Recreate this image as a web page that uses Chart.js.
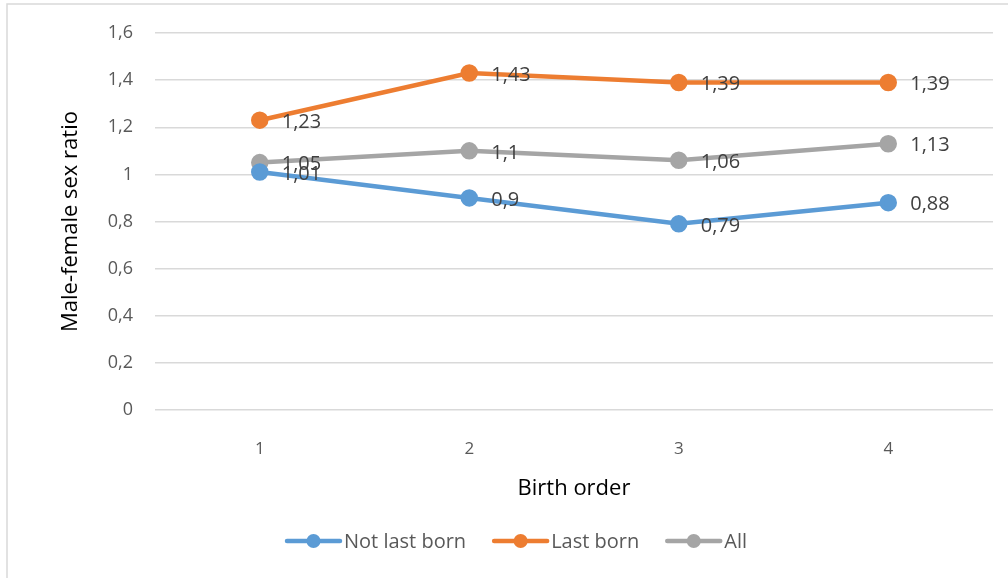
<!DOCTYPE html>
<html>
<head>
<meta charset="utf-8">
<script src="https://cdn.jsdelivr.net/npm/chart.js@4"></script>
<style>
  html, body { margin: 0; padding: 0; background: #fff; }
  #wrap { width: 1008px; height: 578px; }
</style>
</head>
<body>
<div id="wrap"><canvas id="chart" width="1008" height="578"></canvas></div>
<script>
const categories = ['1', '2', '3', '4'];
const notLastBorn = [1.01, 0.9, 0.79, 0.88];
const lastBorn = [1.23, 1.43, 1.39, 1.39];
const allBirths = [1.05, 1.1, 1.06, 1.13];
const seriesNames = ['Not last born', 'Last born', 'All'];
const seriesColors = ['#5B9BD5', '#ED7D31', '#A5A5A5'];

const FONT = "'Open Sans', 'Noto Sans', sans-serif";
const fmt = v => String(v).replace('.', ',');

// labels next to each point, to the right
const pointLabels = {
  id: 'pointLabels',
  afterDatasetsDraw(chart) {
    const ctx = chart.ctx;
    ctx.save();
    ctx.font = '20px ' + FONT;
    ctx.fillStyle = '#404040';
    ctx.textAlign = 'left';
    ctx.textBaseline = 'middle';
    chart.data.datasets.forEach((ds, i) => {
      chart.getDatasetMeta(i).data.forEach((pt, j) => {
        ctx.fillText(fmt(ds.data[j]), pt.x + 22, pt.y + 2);
      });
    });
    ctx.restore();
  }
};

// frame + legend with line and dot
const frameLegend = {
  id: 'frameLegend',
  beforeDraw(chart) {
    const ctx = chart.ctx;
    ctx.save();
    ctx.strokeStyle = '#D9D9D9';
    ctx.lineWidth = 1.5;
    ctx.strokeRect(7, 4, 1020, 600);
    ctx.restore();
  },
  afterDraw(chart) {
    const ctx = chart.ctx;
    ctx.save();
    ctx.font = '20px ' + FONT;
    const y = 541;
    const lineW = 53, gap = 4, spacing = 28;
    const widths = seriesNames.map(n => ctx.measureText(n).width);
    const total = widths.reduce((a, w) => a + lineW + gap + w, 0) + spacing * (seriesNames.length - 1);
    let x = 517 - total / 2;
    seriesNames.forEach((name, i) => {
      ctx.strokeStyle = seriesColors[i];
      ctx.lineWidth = 4.5;
      ctx.lineCap = 'round';
      ctx.beginPath();
      ctx.moveTo(x, y);
      ctx.lineTo(x + lineW, y);
      ctx.stroke();
      ctx.fillStyle = seriesColors[i];
      ctx.beginPath();
      ctx.arc(x + lineW / 2, y, 7, 0, Math.PI * 2);
      ctx.fill();
      ctx.fillStyle = '#595959';
      ctx.textBaseline = 'middle';
      ctx.fillText(name, x + lineW + gap, y + 1);
      x += lineW + gap + widths[i] + spacing;
    });
    ctx.restore();
  }
};

const makeSet = (label, data, color) => ({
  label, data,
  borderColor: color,
  backgroundColor: color,
  pointBackgroundColor: color,
  pointBorderColor: color,
  borderWidth: 4.5,
  pointRadius: 6.5,
  pointHoverRadius: 6.5,
  tension: 0
});

new Chart(document.getElementById('chart').getContext('2d'), {
  type: 'line',
  data: {
    labels: categories,
    datasets: [
      makeSet(seriesNames[0], notLastBorn, seriesColors[0]),
      makeSet(seriesNames[1], lastBorn, seriesColors[1]),
      makeSet(seriesNames[2], allBirths, seriesColors[2])
    ]
  },
  plugins: [pointLabels, frameLegend],
  options: {
    responsive: false,
    animation: false,
    events: [],
    layout: { padding: { left: 48, right: 15, top: 33, bottom: 76 } },
    scales: {
      x: {
        offset: true,
        grid: { display: false },
        border: { display: false },
        ticks: { color: '#595959', font: { family: FONT, size: 17 }, padding: 21 },
        title: { display: true, text: 'Birth order', color: '#000', font: { family: FONT, size: 22 }, padding: { top: 0, bottom: 0 } },
        afterFit: s => { s.height = 92; }
      },
      y: {
        min: 0,
        max: 1.6,
        grid: { color: '#D9D9D9', lineWidth: 1.5, drawTicks: false },
        border: { display: false },
        ticks: {
          stepSize: 0.2,
          color: '#595959',
          font: { family: FONT, size: 18 },
          padding: 22,
          callback: v => fmt(Math.round(v * 10) / 10)
        },
        title: { display: true, text: 'Male-female sex ratio', color: '#000', font: { family: FONT, size: 22 }, padding: { top: 10, bottom: 0 } },
        afterFit: s => { s.width = 107; }
      }
    },
    plugins: {
      legend: { display: false },
      tooltip: { enabled: false }
    }
  }
});
</script>
</body>
</html>
